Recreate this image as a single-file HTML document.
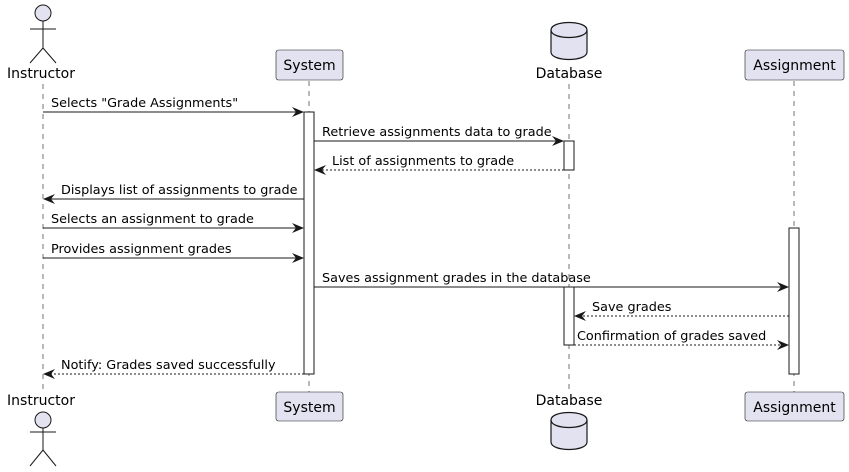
<!DOCTYPE html>
<html><head><style>
html,body{margin:0;padding:0;background:#fff;}
svg{display:block;}
text{font-family:"DejaVu Sans","Liberation Sans",sans-serif;font-size:12.8px;fill:#000;}
text.p{font-size:14px;}
</style></head><body>
<svg width="849" height="472" viewBox="0 0 849 472" xmlns="http://www.w3.org/2000/svg">
<g stroke="#181818" stroke-width="0.6" stroke-dasharray="5,5" fill="none">
<line x1="43" y1="84" x2="43" y2="392"/>
<line x1="309" y1="81" x2="309" y2="392"/>
<line x1="569" y1="84" x2="569" y2="392"/>
<line x1="794" y1="81" x2="794" y2="392"/>
</g>
<g fill="#fff" stroke="#181818" stroke-width="1">
<rect x="304" y="112" width="10" height="262"/>
<rect x="564" y="141" width="10" height="29"/>
<rect x="564" y="287" width="10" height="58"/>
<rect x="789" y="228" width="10" height="146"/>
</g>
<g stroke="#181818" stroke-width="1" fill="#E2E2F0">
<circle cx="43" cy="13" r="8"/>
<line x1="43" y1="21" x2="43" y2="48"/>
<line x1="30" y1="29" x2="56" y2="29"/>
<line x1="43" y1="48" x2="30" y2="63"/>
<line x1="43" y1="48" x2="56" y2="63"/>
<circle cx="43" cy="420" r="8"/>
<line x1="43" y1="428" x2="43" y2="450"/>
<line x1="30" y1="432" x2="56" y2="432"/>
<line x1="43" y1="450" x2="30" y2="466"/>
<line x1="43" y1="450" x2="56" y2="466"/>
</g>
<text class="p" x="41" y="78" text-anchor="middle">Instructor</text>
<text class="p" x="41" y="405" text-anchor="middle">Instructor</text>
<g fill="#E2E2F0" stroke="#181818" stroke-width="0.6">
<rect x="276" y="50" width="67" height="30" rx="2.5"/>
<rect x="276" y="392" width="67" height="29" rx="2.5"/>
<rect x="745" y="50" width="99" height="30" rx="2.5"/>
<rect x="745" y="392" width="99" height="29" rx="2.5"/>
</g>
<text class="p" x="309.5" y="70" text-anchor="middle">System</text>
<text class="p" x="309.5" y="412" text-anchor="middle">System</text>
<text class="p" x="794.5" y="70" text-anchor="middle">Assignment</text>
<text class="p" x="794.5" y="412" text-anchor="middle">Assignment</text>
<g fill="#E2E2F0" stroke="#181818" stroke-width="1.2">
<path d="M551,30 C551,20 587,20 587,30 L587,52 C587,62 551,62 551,52 Z"/>
<path d="M551,30 C551,40 587,40 587,30" fill="none"/>
<path d="M551,420 C551,410 587,410 587,420 L587,442 C587,452 551,452 551,442 Z"/>
<path d="M551,420 C551,430 587,430 587,420" fill="none"/>
</g>
<text class="p" x="569" y="78" text-anchor="middle">Database</text>
<text class="p" x="569" y="405" text-anchor="middle">Database</text>
<g stroke="#181818" stroke-width="1" fill="none">
<line x1="43" y1="112" x2="302" y2="112"/>
<line x1="314" y1="141" x2="562" y2="141"/>
<line x1="564" y1="170" x2="316" y2="170" stroke-dasharray="2,2"/>
<line x1="304" y1="199" x2="45" y2="199"/>
<line x1="43" y1="228" x2="302" y2="228"/>
<line x1="43" y1="258" x2="302" y2="258"/>
<line x1="314" y1="287" x2="787" y2="287"/>
<line x1="789" y1="316" x2="576" y2="316" stroke-dasharray="2,2"/>
<line x1="574" y1="345" x2="787" y2="345" stroke-dasharray="2,2"/>
<line x1="304" y1="374" x2="45" y2="374" stroke-dasharray="2,2"/>
</g>
<g fill="#181818">
<polygon points="304,112 292,107 296,112 292,117"/>
<polygon points="564,141 552,136 556,141 552,146"/>
<polygon points="314,170 326,165 322,170 326,175"/>
<polygon points="43,199 55,194 51,199 55,204"/>
<polygon points="304,228 292,223 296,228 292,233"/>
<polygon points="304,258 292,253 296,258 292,263"/>
<polygon points="789,287 777,282 781,287 777,292"/>
<polygon points="574,316 586,311 582,316 586,321"/>
<polygon points="789,345 777,340 781,345 777,350"/>
<polygon points="43,374 55,369 51,374 55,379"/>
</g>
<text x="51" y="107">Selects "Grade Assignments"</text>
<text x="322" y="136">Retrieve assignments data to grade</text>
<text x="332" y="165">List of assignments to grade</text>
<text x="61" y="194">Displays list of assignments to grade</text>
<text x="51" y="223">Selects an assignment to grade</text>
<text x="51" y="253">Provides assignment grades</text>
<text x="322" y="282">Saves assignment grades in the database</text>
<text x="592" y="311">Save grades</text>
<text x="577" y="340">Confirmation of grades saved</text>
<text x="61" y="369">Notify: Grades saved successfully</text>
</svg>
</body></html>
